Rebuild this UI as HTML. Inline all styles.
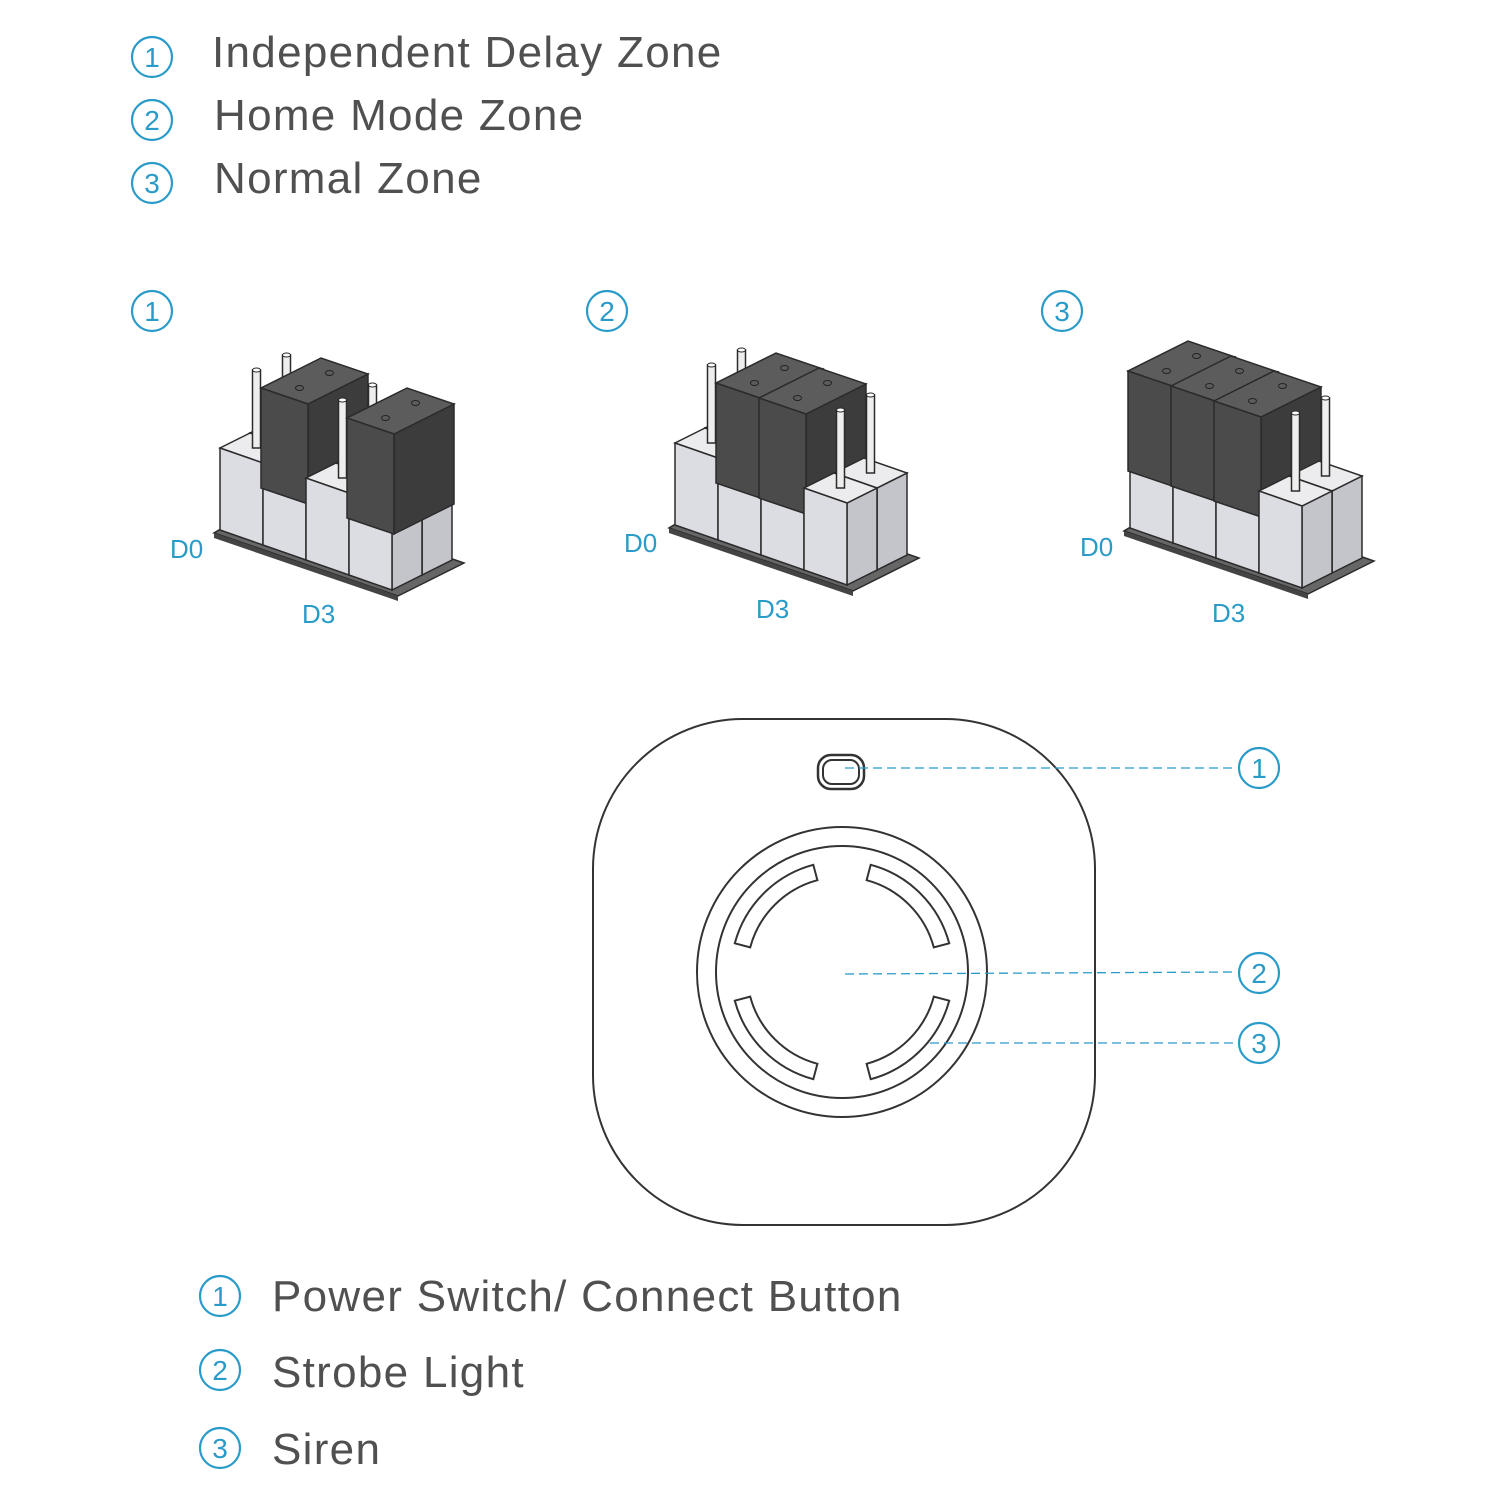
<!DOCTYPE html>
<html><head><meta charset="utf-8">
<style>
html,body{margin:0;padding:0;background:#fff;}
body{width:1500px;height:1500px;position:relative;overflow:hidden;font-family:"Liberation Sans",sans-serif;}
.t{position:absolute;color:#505050;font-size:44px;white-space:nowrap;letter-spacing:1.3px;}
</style></head><body>
<svg id="s" width="1500" height="1500" viewBox="0 0 1500 1500" style="position:absolute;left:0;top:0">
<g id="cn"></g>
<g id="jp"></g>
<rect x="593" y="719" width="502" height="506" rx="150" ry="150" fill="none" stroke="#333" stroke-width="2"/>
<rect x="818" y="755" width="46" height="34" rx="13" fill="none" stroke="#333" stroke-width="2.5"/>
<rect x="823" y="760" width="36" height="24" rx="9" fill="none" stroke="#333" stroke-width="2"/>
<circle cx="842" cy="972" r="145" fill="none" stroke="#333" stroke-width="2"/>
<circle cx="842" cy="972" r="126" fill="none" stroke="#333" stroke-width="2"/>
<g id="slots" fill="none" stroke="#333" stroke-width="2"></g>
<g stroke="#2a9bc9" stroke-width="1.3" stroke-dasharray="9,5" fill="none">
<line x1="845" y1="768" x2="1236" y2="768"/>
<line x1="845" y1="974" x2="1236" y2="972"/>
<line x1="930" y1="1043" x2="1236" y2="1043"/>
</g>
<g fill="#2a9bc9" font-family="Liberation Sans, sans-serif" font-size="26">
<text x="170" y="558">D0</text><text x="302" y="623">D3</text>
<text x="624" y="552">D0</text><text x="756" y="618">D3</text>
<text x="1080" y="556">D0</text><text x="1212" y="622">D3</text>
</g>
</svg>
<div class="t" style="left:212px;top:28px">Independent Delay Zone</div>
<div class="t" style="left:214px;top:91px">Home Mode Zone</div>
<div class="t" style="left:214px;top:154px">Normal Zone</div>
<div class="t" style="left:272px;top:1272px">Power Switch/ Connect Button</div>
<div class="t" style="left:272px;top:1348px">Strobe Light</div>
<div class="t" style="left:272px;top:1425px">Siren</div>
<script>
var NS="http://www.w3.org/2000/svg";
function el(p,tag,a){var e=document.createElementNS(NS,tag);for(var k in a)e.setAttribute(k,a[k]);p.appendChild(e);return e;}
var cn=document.getElementById('cn');
function circ(x,y,n){el(cn,'circle',{cx:x,cy:y,r:20,fill:'none',stroke:'#2a9bc9','stroke-width':2.2});
var t=el(cn,'text',{x:x,y:y+10,'text-anchor':'middle','font-size':28,fill:'#2a9bc9','font-family':'Liberation Sans, sans-serif'});t.textContent=n;}
circ(152,57,1);circ(152,120,2);circ(152,183,3);
circ(152,311,1);circ(607,311,2);circ(1062,311,3);
circ(1259,768,1);circ(1259,973,2);circ(1259,1043,3);
circ(220,1296,1);circ(220,1370,2);circ(220,1448,3);
var jp=document.getElementById('jp');
function P(a){return a.map(function(p){return p[0].toFixed(1)+','+p[1].toFixed(1)}).join(' ');}
function box(p,u,v,h,c){
 var a=p,b=[p[0]+u[0],p[1]+u[1]],cc=[b[0]+v[0],b[1]+v[1]],d=[p[0]+v[0],p[1]+v[1]];
 function up(q){return [q[0],q[1]-h];}
 el(jp,'polygon',{points:P([b,cc,up(cc),up(b)]),fill:c[2],stroke:'#2b2b2b','stroke-width':1.5});
 el(jp,'polygon',{points:P([up(a),up(b),up(cc),up(d)]),fill:c[1],stroke:'#2b2b2b','stroke-width':1.5});
 el(jp,'polygon',{points:P([a,b,up(b),up(a)]),fill:c[0],stroke:'#2b2b2b','stroke-width':1.5});
}
var L=['#dcdde2','#ececee','#c4c5ca'],D=['#4b4b4b','#5c5c5c','#3c3c3c'];
function pin(x,y){el(jp,'rect',{x:x-4,y:y-78,width:8,height:78,fill:'#eeeeee',stroke:'#2b2b2b','stroke-width':1.5});
 el(jp,'ellipse',{cx:x,cy:y-78,rx:4,ry:2,fill:'#fff',stroke:'#2b2b2b','stroke-width':1});}
function block(O,jm){
 var u=[43,15],v=[30,-15],H=82;
 var p0=[O[0]-6,O[1]+3],p1=[O[0]+4*u[0]+6,O[1]+4*u[1]+6];
 el(jp,'polygon',{points:P([p0,p1,[p1[0]+2*v[0]+6,p1[1]+2*v[1]-3],[p0[0]+2*v[0],p0[1]+2*v[1]-6]]),fill:'#666',stroke:'#2b2b2b','stroke-width':1.5});
 el(jp,'polygon',{points:P([p0,p1,[p1[0],p1[1]+5],[p0[0],p0[1]+5]]),fill:'#444'});
 for(var i=0;i<4;i++){
  var f=[O[0]+i*u[0],O[1]+i*u[1]],bk=[f[0]+v[0],f[1]+v[1]];
  box(bk,u,v,H,L);
  box(f,u,v,H,L);
  if(jm[i]){
   box([f[0]-2,f[1]-(H-25)],[u[0]+4,u[1]+1],[2*v[0],2*v[1]],100,D);
   var tc=[f[0]+u[0]/2,f[1]+u[1]/2-(H-25)-100];
   el(jp,'ellipse',{cx:tc[0]+v[0]/2,cy:tc[1]+v[1]/2,rx:4,ry:2.5,fill:'none',stroke:'#222'});
   el(jp,'ellipse',{cx:tc[0]+1.5*v[0],cy:tc[1]+1.5*v[1],rx:4,ry:2.5,fill:'none',stroke:'#222'});
  } else {
   pin(bk[0]+u[0]/2+v[0]/2,bk[1]+u[1]/2+v[1]/2-H);
   pin(f[0]+u[0]/2+v[0]/2,f[1]+u[1]/2+v[1]/2-H);
  }
 }
}
block([220,530],[0,1,0,1]);
block([675,525],[0,1,1,0]);
block([1130,528],[1,1,1,0]);
var sl=document.getElementById('slots'),cx=842,cy=972,r1=95,r2=111;
[225,315,45,135].forEach(function(c){
 var a0=(c-30)*Math.PI/180,a1=(c+30)*Math.PI/180;
 function pt(r,a){return (cx+r*Math.cos(a)).toFixed(1)+' '+(cy+r*Math.sin(a)).toFixed(1);}
 el(sl,'path',{d:'M'+pt(r2,a0)+' A'+r2+' '+r2+' 0 0 1 '+pt(r2,a1)+' L'+pt(r1,a1)+' A'+r1+' '+r1+' 0 0 0 '+pt(r1,a0)+' Z'});
});
</script>
</body></html>
